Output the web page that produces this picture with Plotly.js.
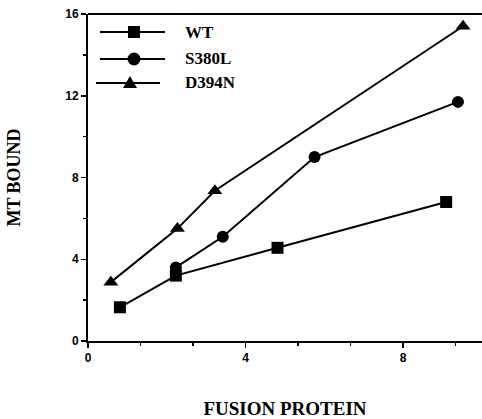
<!DOCTYPE html>
<html>
<head>
<meta charset="utf-8">
<script src="https://cdn.plot.ly/plotly-3.0.1.min.js"></script>
<style>html,body{margin:0;padding:0;background:#fff;}#chart{width:482px;height:419px;}</style>
</head>
<body>
<div id="chart"></div>
<script>
// Data
const seriesNames = ["WT", "S380L", "D394N"];
const wtX = [0.81, 2.23, 4.81, 9.09];
const wtY = [1.65, 3.2, 4.56, 6.8];
const s380lX = [2.23, 3.42, 5.75, 9.39];
const s380lY = [3.6, 5.1, 9.0, 11.7];
const d394nX = [0.58, 2.27, 3.22, 9.52];
const d394nY = [2.88, 5.5, 7.35, 15.4];
const xTicks = [0, 4, 8];
const yTicks = [0, 4, 8, 12, 16];
const symbols = ["square", "circle", "triangle-up"];

const xs = [wtX, s380lX, d394nX];
const ys = [wtY, s380lY, d394nY];
const sizes = [12, 12, 13];

const traces = seriesNames.map((n, i) => ({
  type: "scatter", mode: "lines+markers", name: n,
  x: xs[i], y: ys[i],
  line: {color: "#000", width: 2},
  marker: {symbol: symbols[i], size: sizes[i], color: "#000"},
  showlegend: false, cliponaxis: false
}));

// manual legend (pixel layout)
const L = 88, T = 14, W = 394, H = 327;
const px = v => (v - L) / W;
const py = v => (T + H - v) / H;
const legRows = [32, 59, 83];
const shapes = [
  {type: "line", xref: "paper", yref: "paper", x0: 0, x1: 1, y0: 1, y1: 1, line: {color: "#000", width: 2}}
];
const annotations = [];
legRows.forEach((r, i) => {
  const x0 = i === 2 ? 96 : 100, x1 = i === 2 ? 160 : 165, mx = i === 2 ? 130 : 134;
  shapes.push({type: "line", xref: "paper", yref: "paper", x0: px(x0), x1: px(x1), y0: py(r), y1: py(r), line: {color: "#000", width: 2}});
  if (symbols[i] === "square") {
    shapes.push({type: "rect", xref: "paper", yref: "paper", xsizemode: "pixel", ysizemode: "pixel", xanchor: px(mx), yanchor: py(r), x0: -6, x1: 6, y0: -6, y1: 6, fillcolor: "#000", line: {width: 0}});
  } else if (symbols[i] === "circle") {
    shapes.push({type: "circle", xref: "paper", yref: "paper", xsizemode: "pixel", ysizemode: "pixel", xanchor: px(mx), yanchor: py(r), x0: -6.5, x1: 6.5, y0: -6.5, y1: 6.5, fillcolor: "#000", line: {width: 0}});
  } else {
    shapes.push({type: "path", xref: "paper", yref: "paper", xsizemode: "pixel", ysizemode: "pixel", xanchor: px(mx), yanchor: py(r), path: "M-7,-5 L7,-5 L0,7 Z", fillcolor: "#000", line: {width: 0}});
  }
  annotations.push({xref: "paper", yref: "paper", x: px(183), y: py(r), xanchor: "left", yanchor: "middle", showarrow: false, text: seriesNames[i], font: {family: "Liberation Serif", size: 17, color: "#000", weight: "bold"}});
});

const tickFont = {family: "Liberation Sans", size: 12, color: "#000", weight: "bold"};
const layout = {
  width: 482, height: 419,
  margin: {l: L, r: 0, t: T, b: 419 - T - H},
  paper_bgcolor: "#fff", plot_bgcolor: "#fff",
  showlegend: false,
  xaxis: {
    range: [0, 10], tickvals: xTicks, ticktext: xTicks.map(String),
    showgrid: false, zeroline: false, showline: true, linecolor: "#000", linewidth: 2,
    ticks: "outside", ticklen: 5, tickwidth: 1.5, tickcolor: "#000", tickfont: tickFont,
    minor: {dtick: 4 / 3, tick0: 0, ticks: "outside", ticklen: 3, tickwidth: 1.5, tickcolor: "#000", showgrid: false},
    title: {text: "FUSION PROTEIN", standoff: 47, font: {family: "Liberation Serif", size: 19, color: "#000", weight: "bold"}}
  },
  yaxis: {
    range: [0, 16], tickvals: yTicks, ticktext: yTicks.map(String),
    showgrid: false, zeroline: false, showline: true, linecolor: "#000", linewidth: 2,
    ticks: "outside", ticklen: 5, tickwidth: 1.5, tickcolor: "#000", tickfont: tickFont,
    minor: {dtick: 2, tick0: 0, ticks: "outside", ticklen: 3, tickwidth: 1.5, tickcolor: "#000", showgrid: false},
    title: {text: "MT BOUND", standoff: 40, font: {family: "Liberation Serif", size: 18, color: "#000", weight: "bold"}}
  },
  shapes: shapes, annotations: annotations
};
Plotly.newPlot("chart", traces, layout, {displayModeBar: false, staticPlot: true});
</script>
</body>
</html>
